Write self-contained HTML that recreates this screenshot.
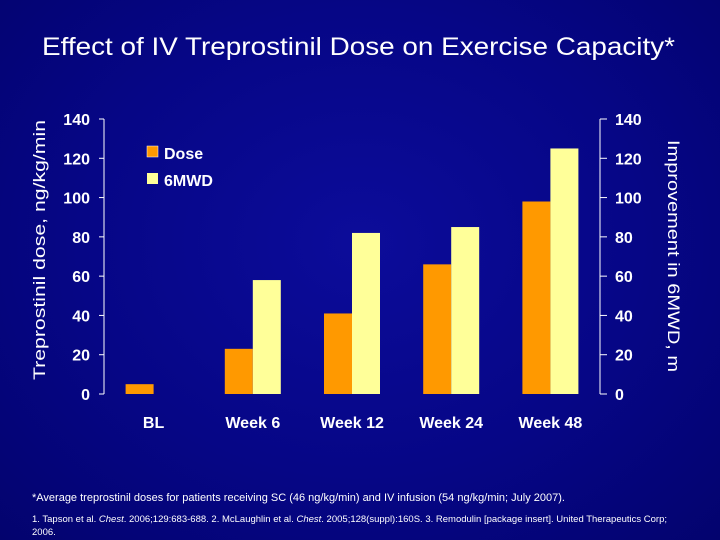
<!DOCTYPE html>
<html><head><meta charset="utf-8"><style>
body{margin:0;width:720px;height:540px;overflow:hidden;background:radial-gradient(ellipse at 50% 45%,#0c0c9a 0%,#060686 55%,#03036e 100%);font-family:"Liberation Sans",Arial,sans-serif;}
svg{position:absolute;left:0;top:0}
.fn{position:absolute;color:#fff;font-size:11px;left:32px}
</style></head><body>
<svg width="720" height="540">
<text x="42" y="55" fill="#fff" font-size="25" textLength="633" lengthAdjust="spacingAndGlyphs">Effect of IV Treprostinil Dose on Exercise Capacity*</text>
<text transform="translate(45,380) rotate(-90)" fill="#fff" font-size="17" textLength="260" lengthAdjust="spacingAndGlyphs">Treprostinil dose, ng/kg/min</text>
<text transform="translate(668,140) rotate(90)" fill="#fff" font-size="17" textLength="232" lengthAdjust="spacingAndGlyphs">Improvement in 6MWD, m</text>
<g id="g"></g>
<rect x="147" y="146" width="11" height="11" fill="#ff9900" stroke="#fff" stroke-width="0.5"/>
<text x="164" y="159" fill="#fff" font-size="16" font-weight="bold">Dose</text>
<rect x="147" y="173" width="11" height="11" fill="#ffff99"/>
<text x="164" y="186" fill="#fff" font-size="16" font-weight="bold">6MWD</text>
</svg>
<div class="fn" style="top:492px;font-size:11px">*Average treprostinil doses for patients receiving SC (46 ng/kg/min) and IV infusion (54 ng/kg/min; July 2007).</div>
<div class="fn" style="top:513px;font-size:9.5px;line-height:13px;width:650px">1. Tapson et al. <i>Chest</i>. 2006;129:683-688. 2. McLaughlin et al. <i>Chest</i>. 2005;128(suppl):160S. 3. Remodulin [package insert]. United Therapeutics Corp; 2006.</div>
<script>
const categories=["BL","Week 6","Week 12","Week 24","Week 48"];
const dose=[5,23,41,66,98];
const walk=[null,58,82,85,125];
const ticks=[0,20,40,60,80,100,120,140];
const NS="http://www.w3.org/2000/svg",g=document.getElementById('g');
const x0=104,x1=600,y0=394,y1=119,max=140;
const y=v=>y0-(y0-y1)*v/max;
const cw=(x1-x0)/categories.length;
const cx=i=>x0+cw*(i+0.5);
function mk(t,a){const e=document.createElementNS(NS,t);for(const k in a)e.setAttribute(k,a[k]);g.appendChild(e);return e;}
let e=mk('line',{x1:x0,y1:y0,x2:x0,y2:y1,stroke:'#fff','stroke-width':1});


e=mk('line',{x1:x1,y1:y0,x2:x1,y2:y1,stroke:'#fff','stroke-width':1});


ticks.forEach(t=>{
 mk('line',{x1:x0-5,y1:y(t),x2:x0,y2:y(t),stroke:'#fff'});
 mk('line',{x1:x1,y1:y(t),x2:x1+7,y2:y(t),stroke:'#fff'});
 let l=mk('text',{x:x0-14,y:y(t)+6,fill:'#fff','font-size':16,'font-weight':'bold','text-anchor':'end'});l.textContent=t;
 
 
 let r=mk('text',{x:x1+15,y:y(t)+6,fill:'#fff','font-size':16,'font-weight':'bold'});r.textContent=t;
 
 
});
categories.forEach((c,i)=>{
 const bw=28;
 let b=mk('rect',{x:cx(i)-bw,y:y(dose[i]),width:bw,height:y0-y(dose[i]),fill:'#ff9900'});
 
 
 if(walk[i]!=null){let w=mk('rect',{x:cx(i),y:y(walk[i]),width:bw,height:y0-y(walk[i]),fill:'#ffff99'});
 
 }
 let t=mk('text',{x:cx(i),y:428,fill:'#fff','font-size':16,'font-weight':'bold','text-anchor':'middle'});t.textContent=c;
 
 
});
</script>
</body></html>
